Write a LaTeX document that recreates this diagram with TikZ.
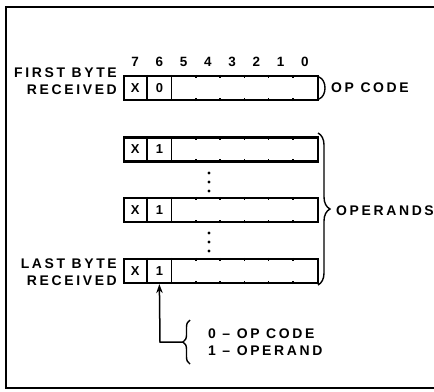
\documentclass[tikz,border=0pt]{standalone}
\usepackage{fontspec}
\setmainfont{Liberation Sans}
\newfontfamily\lblfont[LetterSpace=19]{Liberation Sans}
\usetikzlibrary{calc,arrows.meta,decorations.pathreplacing}
\tikzset{
  byte/.style={draw, line width=2.2bp, minimum width=194bp, minimum height=24bp, inner sep=0pt, anchor=west},
  divider/.style={line width=1.7bp},
  tick/.style={line width=1.5bp},
  cell/.style={font=\fontsize{13}{14}\selectfont\bfseries, inner sep=0pt},
  lbl/.style={font=\lblfont\fontsize{14}{17}\selectfont\bfseries, inner sep=0pt},
  digit/.style={font=\fontsize{13.5}{14}\selectfont\bfseries, inner sep=0pt},
  frame/.style={line width=2bp},
  bracestyle/.style={line width=1.4bp, decorate},
  connector/.style={line width=1.5bp, -{Stealth[length=9bp,width=6.5bp]}},
}
\begin{document}
\begin{tikzpicture}[x=1bp,y=-1bp]
\useasboundingbox (0,0) rectangle (434,391);
% frame
\draw[frame] (434,7) -- (5.5,7) -- (5.5,388) -- (434,388);
% byte boxes
\def\cw{24.25}
\foreach \n/\yy/\b in {1/88/0,2/149.5/1,3/210/1,4/271/1}{
  \node[byte] (b\n) at (123,\yy) {};
  \draw[divider] ($(b\n.north west)+(\cw,0)$) -- ($(b\n.south west)+(\cw,0)$);
  \draw[divider] ($(b\n.north west)+(2*\cw,0)$) -- ($(b\n.south west)+(2*\cw,0)$);
  \foreach \i in {3,...,7}{
    \draw[tick] ($(b\n.north west)+(\i*\cw,0)$) -- ++(0,3.5);
    \draw[tick] ($(b\n.south west)+(\i*\cw,0)$) -- ++(0,-3.5);
  }
  \node[cell] (x\n) at ($(b\n.west)+(0.5*\cw,0)$) {X};
  \node[cell] (v\n) at ($(b\n.west)+(1.5*\cw,0)$) {\b};
}
% bit numbers
\foreach \d [count=\k from 0] in {7,6,5,4,3,2,1,0}{
  \node[digit] (d\d) at ($(b1.west)+({(\k+0.5)*\cw},-26)$) {\d};
}
% labels
\node[lbl, anchor=east, align=right] (first) at (117,81.5) {FIRST BYTE\\RECEIVED};
\node[lbl, anchor=east, align=right] (last) at (117,272.5) {LAST BYTE\\RECEIVED};
% dots
\foreach \yy in {173,182,191,233,242,251}{
  \fill (209,\yy) circle (1.7);
}
% op code paren
\draw[line width=1.4bp] (319,77) .. controls (327,80) and (327,96) .. (319,99);
\node[lbl, anchor=west] (opcode) at (331,88) {OP CODE};
% operands brace
\draw[bracestyle, decoration={brace, amplitude=12bp}] (318,133) -- (318,285);
\node[lbl, anchor=west] (operands) at (336,211) {OPERANDS};
% legend brace
\draw[bracestyle, decoration={brace, amplitude=7bp}] (190,364) -- (190,320);
\coordinate (lb) at (183,342);
\coordinate (corner) at (160,342);
\coordinate (c6) at ($(b4.south west)+(1.5*\cw,0)$);
\draw[connector] (lb) -- (corner) -- (c6);
\node[lbl, anchor=west, align=left] (legend) at (208,342.5) {0 – OP CODE\\1 – OPERAND};
\end{tikzpicture}
\end{document}
